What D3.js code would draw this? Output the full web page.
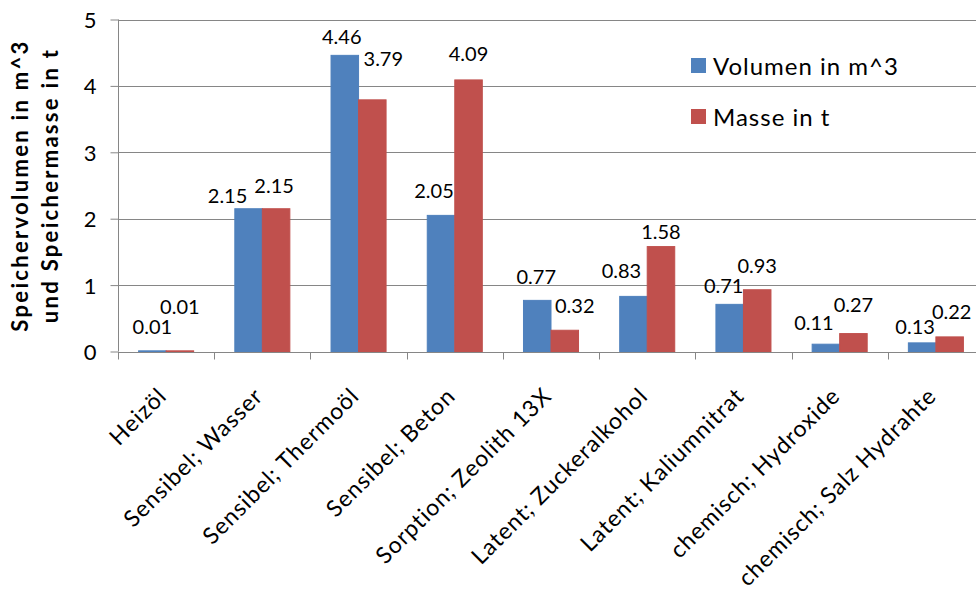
<!DOCTYPE html>
<html>
<head>
<meta charset="utf-8">
<script src="https://cdn.jsdelivr.net/npm/d3@7/dist/d3.min.js"></script>
<style>
  html, body { margin: 0; padding: 0; background: #ffffff; }
  svg { display: block; }
  text { font-family: Lato, "Open Sans", sans-serif; fill: #000; }
</style>
</head>
<body>
<svg id="chart" width="976" height="595"></svg>
<script>
// Storage materials
const categories = [
  "Heizöl",
  "Sensibel; Wasser",
  "Sensibel; Thermoöl",
  "Sensibel; Beton",
  "Sorption; Zeolith 13X",
  "Latent; Zuckeralkohol",
  "Latent; Kaliumnitrat",
  "chemisch; Hydroxide",
  "chemisch; Salz Hydrahte"
];
const seriesNames = ["Volumen in m^3", "Masse in t"];
const volumen = [0.01, 2.15, 4.46, 2.05, 0.77, 0.83, 0.71, 0.11, 0.13];
const masse   = [0.01, 2.15, 3.79, 4.09, 0.32, 1.58, 0.93, 0.27, 0.22];
const yTicks  = [0, 1, 2, 3, 4, 5];
const yTitle  = ["Speichervolumen in m^3", "und Speichermasse in t"];

// Label placement: shift (dx) and lift above bar top (dy) for each value label
const volLabelShift = [[0, 25], [-21, 14], [-3, 19], [-7, 25], [-1, 24], [-12, 26], [-6, 19], [-12, 22], [-7, 17]];
const masLabelShift = [[0, 45], [-2, 24], [11, 42], [0, 27], [10, 25], [0, 16], [0, 25], [0, 30], [2, 26]];

const colors = ["#4F81BD", "#C0504D"];
const seriesValues = [volumen, masse];
const labelShifts = [volLabelShift, masLabelShift];

const svg = d3.select("#chart");
const plot = { left: 118, right: 984, top: 19.5, bottom: 351.5 };

const x0 = d3.scaleBand().domain(categories).range([plot.left, plot.right]).padding(0);
const groupW = x0.bandwidth() * 0.572;
const x1 = d3.scaleBand().domain(d3.range(seriesNames.length)).range([0, groupW]).padding(0);
const y = d3.scaleLinear().domain([0, 5]).range([plot.bottom, plot.top]);

const gridColor = "#868686";

// Horizontal gridlines
svg.append("g")
  .selectAll("line")
  .data(yTicks.filter(t => t > 0))
  .join("line")
  .attr("x1", plot.left).attr("x2", 976)
  .attr("y1", d => Math.round(y(d)) + 0.5).attr("y2", d => Math.round(y(d)) + 0.5)
  .attr("stroke", gridColor).attr("stroke-width", 1);

// Bars
const groups = svg.append("g")
  .selectAll("g")
  .data(categories)
  .join("g")
  .attr("transform", d => `translate(${x0(d) + (x0.bandwidth() - groupW) / 2},0)`);

groups.selectAll("rect")
  .data((d, i) => seriesValues.map((vals, s) => ({ s, v: vals[i] })))
  .join("rect")
  .attr("x", d => x1(d.s))
  .attr("width", x1.bandwidth())
  .attr("y", d => y(d.v))
  .attr("height", d => plot.bottom - y(d.v))
  .attr("fill", d => colors[d.s])
  .attr("stroke", d => colors[d.s])
  .attr("stroke-width", 1);

// Y axis
const yAxis = svg.append("g")
  .attr("transform", `translate(${plot.left + 0.5},0)`)
  .call(d3.axisLeft(y).tickValues(yTicks).tickSize(8).tickPadding(14).tickFormat(d3.format("d")));
yAxis.select(".domain").attr("stroke", gridColor).attr("d", `M0,${plot.top}V${plot.bottom}`);
yAxis.selectAll(".tick line").attr("stroke", gridColor);
yAxis.selectAll(".tick text")
  .style("font-family", "Lato, sans-serif")
  .attr("font-size", 22).attr("fill", "#000").attr("dy", "0.36em");

// X axis
const xAxis = svg.append("g")
  .attr("transform", `translate(0,${Math.round(plot.bottom) + 0.5})`);
xAxis.append("line")
  .attr("x1", plot.left).attr("x2", 976)
  .attr("stroke", gridColor);
xAxis.selectAll(".xtick")
  .data(categories)
  .join("line")
  .attr("class", "xtick")
  .attr("x1", d => Math.round(x0(d)) + 0.5).attr("x2", d => Math.round(x0(d)) + 0.5)
  .attr("y1", 0).attr("y2", 7)
  .attr("stroke", gridColor);

// Category labels, rotated
xAxis.selectAll(".xlab")
  .data(categories)
  .join("text")
  .attr("class", "xlab")
  .attr("text-anchor", "end")
  .attr("font-size", 23)
  .attr("letter-spacing", 1.0)
  .attr("transform", d => `translate(${x0(d) + x0.bandwidth() / 2 + 2},45) rotate(-45)`)
  .text(d => d);

// Value labels
const fmt = d3.format(".2f");
seriesValues.forEach((vals, s) => {
  svg.append("g")
    .selectAll("text")
    .data(vals)
    .join("text")
    .attr("text-anchor", "middle")
    .attr("dominant-baseline", "central")
    .attr("font-size", 20)
    .attr("x", (v, i) => x0(categories[i]) + (x0.bandwidth() - groupW) / 2 + x1(s) + x1.bandwidth() / 2 + labelShifts[s][i][0])
    .attr("y", (v, i) => y(v) - labelShifts[s][i][1])
    .text(v => fmt(v));
});

// Y axis title, two lines
const yt = svg.append("text")
  .attr("transform", `translate(0,${(plot.top + plot.bottom) / 2}) rotate(-90)`)
  .attr("text-anchor", "middle")
  .attr("font-weight", "bold")
  .attr("font-size", 22)
  .attr("letter-spacing", 2.3);
yt.selectAll("tspan")
  .data(yTitle)
  .join("tspan")
  .attr("x", 0)
  .attr("y", (d, i) => 28 + i * 30)
  .text(d => d);

// Legend
const legend = svg.append("g");
const legendRows = legend.selectAll("g")
  .data(seriesNames)
  .join("g")
  .attr("transform", (d, i) => `translate(691,${58 + i * 51})`);
legendRows.append("rect")
  .attr("width", 15).attr("height", 15)
  .attr("fill", (d, i) => colors[i]);
legendRows.append("text")
  .attr("x", 22).attr("y", 7.5)
  .attr("dominant-baseline", "central")
  .attr("font-size", 24)
  .attr("letter-spacing", 1)
  .text(d => d);
</script>
</body>
</html>
